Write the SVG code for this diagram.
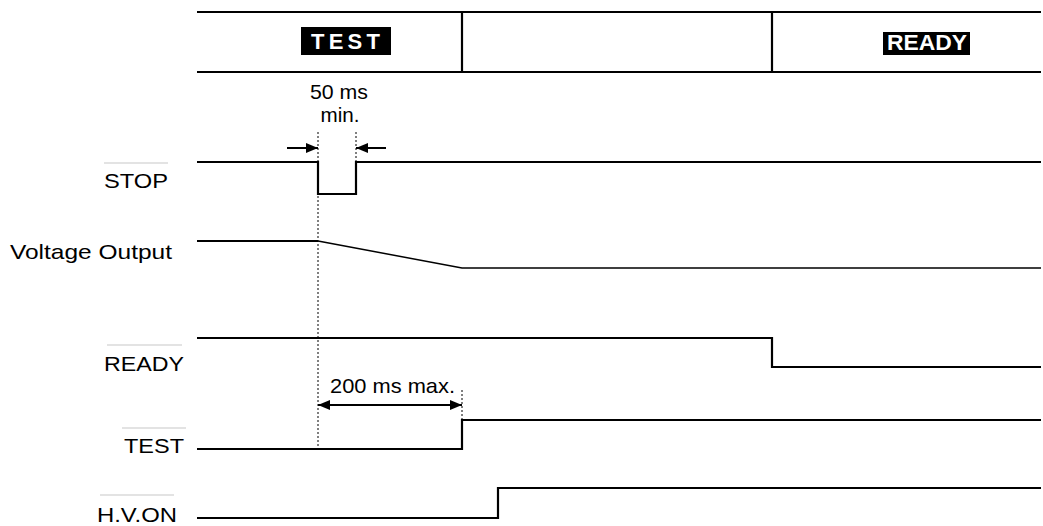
<svg xmlns="http://www.w3.org/2000/svg" width="1043" height="526" viewBox="0 0 1043 526">
<style>
.sig{fill:none;stroke:#000;stroke-width:2.2;stroke-linejoin:miter}
.thin{fill:none;stroke:#000;stroke-width:1.5}
.dot{fill:none;stroke:#000;stroke-width:1;stroke-dasharray:2,2}
.lbl{font-family:"Liberation Sans",Arial,sans-serif;font-size:21px;fill:#000}
.hdr{font-family:"Liberation Sans",Arial,sans-serif;font-size:22px;font-weight:bold;fill:#fff}
.ovl{stroke:#c8c8c8;stroke-width:1.2}
.arr{fill:none;stroke:#000;stroke-width:2}
</style>
<defs>
<marker id="ah" viewBox="0 0 12 10" refX="12" refY="5" markerWidth="12" markerHeight="10" markerUnits="userSpaceOnUse" orient="auto-start-reverse">
<path d="M0,0 L12,5 L0,10 Z" fill="#000"/>
</marker>
</defs>
<g id="header">
<line x1="197" y1="12" x2="1041" y2="12" class="sig"/>
<line x1="197" y1="72" x2="1041" y2="72" class="sig"/>
<line x1="462" y1="12" x2="462" y2="72" class="sig"/>
<line x1="772" y1="12" x2="772" y2="72" class="sig"/>
<rect x="301" y="27" width="90" height="28" fill="#000"/>
<text x="311" y="49" class="hdr" textLength="69" lengthAdjust="spacing">TEST</text>
<rect x="883" y="32" width="87" height="23" fill="#000"/>
<text x="887" y="50" class="hdr" textLength="80" lengthAdjust="spacingAndGlyphs">READY</text>
</g>
<g id="label-stop">
<line x1="104" y1="163" x2="168" y2="163" class="ovl"/>
<text x="104" y="188" class="lbl" textLength="64" lengthAdjust="spacingAndGlyphs">STOP</text>
</g>
<g id="label-voltage">
<text x="10" y="259" class="lbl" textLength="162" lengthAdjust="spacingAndGlyphs">Voltage Output</text>
</g>
<g id="label-ready">
<line x1="107" y1="345" x2="182" y2="345" class="ovl"/>
<text x="104" y="371" class="lbl" textLength="80" lengthAdjust="spacingAndGlyphs">READY</text>
</g>
<g id="label-test">
<line x1="122" y1="428" x2="186" y2="428" class="ovl"/>
<text x="124" y="453" class="lbl" textLength="60" lengthAdjust="spacingAndGlyphs">TEST</text>
</g>
<g id="label-hvon">
<line x1="100" y1="495" x2="174" y2="495" class="ovl"/>
<text x="97" y="522" class="lbl" textLength="80" lengthAdjust="spacingAndGlyphs">H.V.ON</text>
</g>
<g id="signal-stop">
<polyline class="sig" points="197,162 318,162 318,194 356,194 356,162 1041,162"/>
</g>
<g id="signal-voltage">
<line x1="197" y1="241" x2="318" y2="241" class="sig"/>
<polyline class="thin" points="318,241 462,268 1041,268"/>
</g>
<g id="signal-ready">
<polyline class="sig" points="197,338 772,338 772,367 1041,367"/>
</g>
<g id="signal-test">
<polyline class="sig" points="197,449 462,449 462,420 1041,420"/>
</g>
<g id="signal-hvon">
<polyline class="sig" points="197,518 498,518 498,488 1041,488"/>
</g>
<g id="connectors">
<line x1="318" y1="132" x2="318" y2="449" class="dot"/>
<line x1="356" y1="132" x2="356" y2="162" class="dot"/>
<line x1="462" y1="390" x2="462" y2="420" class="dot"/>
<line x1="287" y1="148" x2="318" y2="148" class="arr" marker-end="url(#ah)"/>
<line x1="386" y1="148" x2="356" y2="148" class="arr" marker-end="url(#ah)"/>
<line x1="318" y1="405" x2="462" y2="405" class="arr" marker-start="url(#ah)" marker-end="url(#ah)"/>
<text x="339" y="99" class="lbl" font-size="19" text-anchor="middle" textLength="58" lengthAdjust="spacingAndGlyphs">50 ms</text>
<text x="340" y="122" class="lbl" font-size="19" text-anchor="middle" textLength="39" lengthAdjust="spacingAndGlyphs">min.</text>
<text x="330" y="393" class="lbl" textLength="125" lengthAdjust="spacingAndGlyphs">200 ms max.</text>
</g>
</svg>
